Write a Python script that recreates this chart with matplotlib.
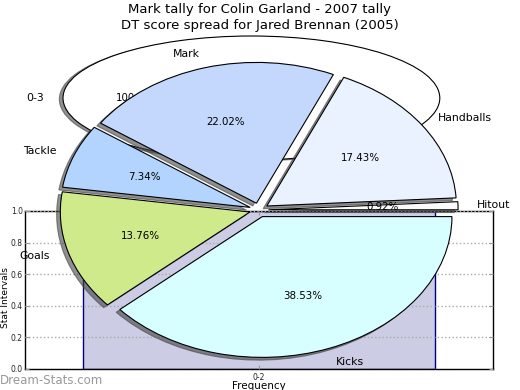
import matplotlib
matplotlib.use('Agg')
import matplotlib.pyplot as plt

# =============================================================================
# DATA
# =============================================================================

title_line1 = "Mark tally for Colin Garland - 2007 tally"
title_line2 = "DT score spread for Jared Brennan (2005)"

# DT score spread (main pie), counts read from the percentages (n = 109)
stat_labels = ['Hitout', 'Handballs', 'Mark', 'Tackle', 'Goals', 'Kicks']
stat_counts = [1, 19, 24, 8, 15, 42]
stat_colors = ['#FAFAFA', '#EAF1FF', '#C4D8FE', '#B2D4FF', '#CFEA8A', '#D8FFFF']

# Mark tally (background pie, single slice)
mark_labels = ['0-3']
mark_counts = [1]

# Frequency bar chart
bar_labels = ['0-2']
bar_values = [1.0]
y_ticks = [0.0, 0.2, 0.4, 0.6, 0.8, 1.0]

# =============================================================================
# FIGURE
# =============================================================================

fig = plt.figure(figsize=(5.2, 3.9), dpi=100)

# grey drop shadow like the old pie style
shadow_style = dict(ox=-0.014, oy=-0.014, facecolor='#444444',
                    edgecolor='#444444', alpha=0.6)

# --- bar chart (underneath) ---
ax_bar = fig.add_axes([25 / 520, 21 / 390, 468 / 520, 158 / 390])
ax_bar.bar(range(len(bar_values)), bar_values, width=0.75,
           color='#CCCCE5', edgecolor='#000080', linewidth=1.0)
ax_bar.set_xlim(-0.5, 0.5)
ax_bar.set_ylim(0, 1.0)
ax_bar.set_xticks(range(len(bar_labels)), bar_labels)
ax_bar.set_yticks(y_ticks, [f"{v:.1f}" for v in y_ticks])
ax_bar.tick_params(direction='in', length=3, color='#999999', labelsize=5.5,
                   labelcolor='#222222', right=True, top=True, pad=3)
ax_bar.tick_params(axis='y', pad=1.5)
ax_bar.grid(True, axis='y', linestyle=':', color='#AAAAAA', linewidth=1.0)
ax_bar.set_axisbelow(False)
ax_bar.set_ylabel("Stat Intervals", fontsize=6.5)
ax_bar.yaxis.set_label_coords(-0.032, 0.45)
ax_bar.set_xlabel("Frequency", fontsize=7.5)
ax_bar.xaxis.set_label_coords(0.5, -0.077)
for sp in ax_bar.spines.values():
    sp.set_linewidth(1.0)

# --- background pie: Mark tally ---
ax_mark = fig.add_axes([15.9 / 520, (390 - 175.5) / 390, 471 / 520, 155 / 390])
w2, t2, a2 = ax_mark.pie(mark_counts, labels=mark_labels, colors=['white'],
                         autopct='%.2f%%', shadow=shadow_style, startangle=0,
                         wedgeprops=dict(edgecolor='black', linewidth=0.8),
                         textprops=dict(fontsize=7.8))
for t in a2:
    t.set_fontsize(7.4)
ax_mark.set_aspect('auto')
ax_mark.set_xlim(-1.25, 1.25)
ax_mark.set_ylim(-1.25, 1.25)

# --- main pie: DT score spread ---
ax_pie = fig.add_axes([22 / 520, 4 / 390, 474 / 520, 352 / 390])
w1, t1, a1 = ax_pie.pie(stat_counts, labels=stat_labels, colors=stat_colors,
                        explode=[0.05] * len(stat_counts), autopct='%.2f%%',
                        shadow=shadow_style, startangle=0,
                        wedgeprops=dict(edgecolor='black', linewidth=0.8),
                        textprops=dict(fontsize=7.8))
for t in a1:
    t.set_fontsize(7.4)
ax_pie.set_aspect('auto')
ax_pie.set_xlim(-1.25, 1.25)
ax_pie.set_ylim(-1.25, 1.25)

# titles
fig.text(0.5, 1 - 10 / 390, title_line1, ha='center', va='center', fontsize=9.5)
fig.text(0.5, 1 - 25 / 390, title_line2, ha='center', va='center', fontsize=9.5)

# watermark
fig.text(0 / 520, 1 - 380 / 390, "Dream-Stats.com", ha='left', va='center',
         fontsize=8.5, color='#999999')

fig.savefig('out.png', dpi=100)
